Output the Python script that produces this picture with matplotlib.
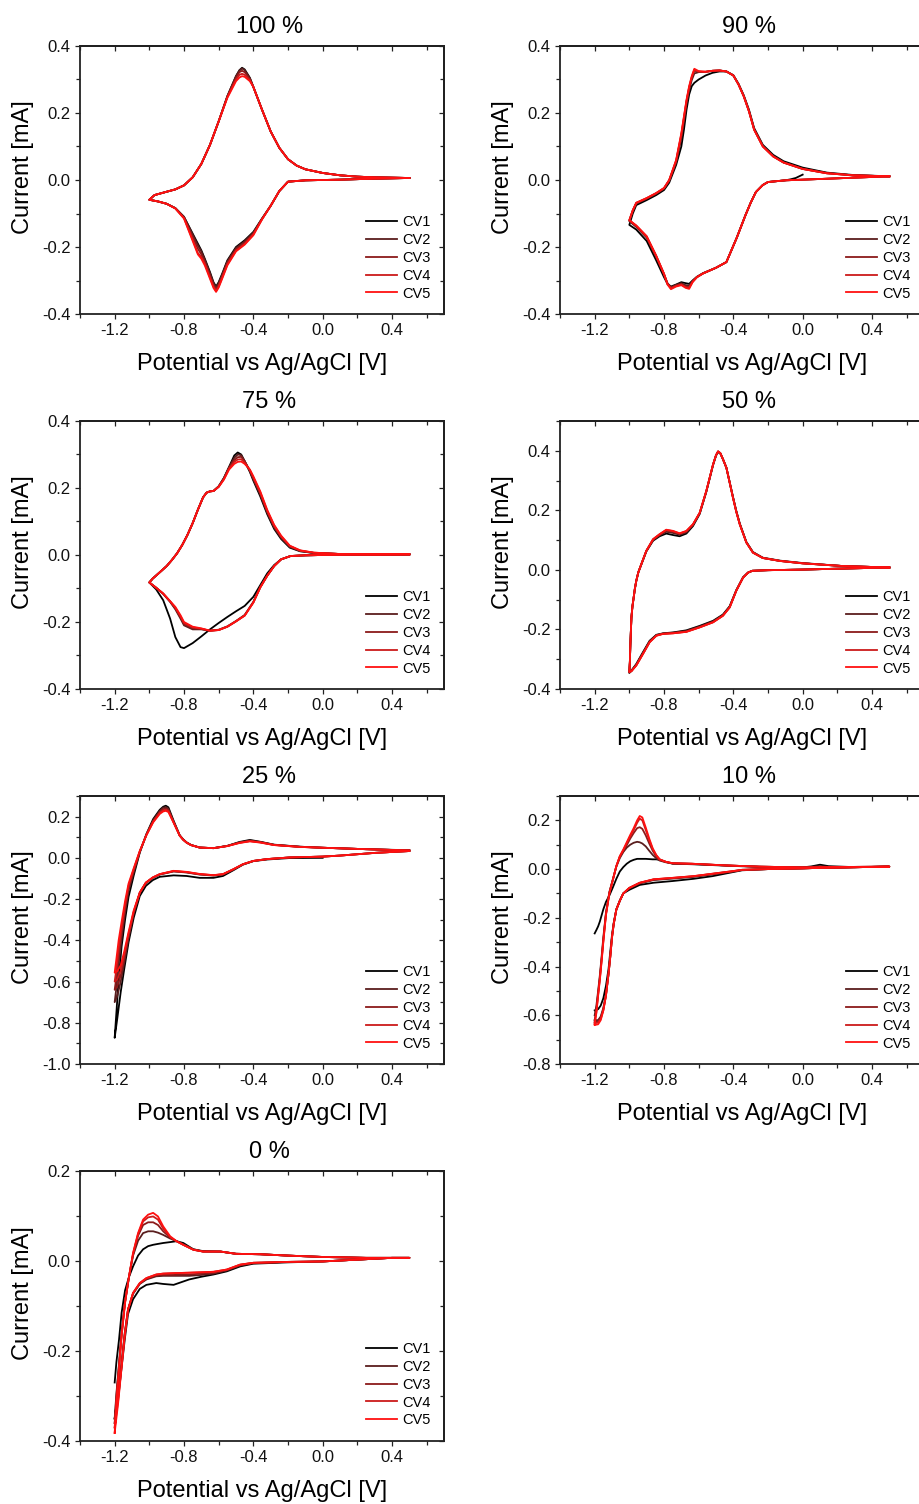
import matplotlib
matplotlib.use("Agg")
import matplotlib.pyplot as plt
from matplotlib.ticker import MultipleLocator, FuncFormatter

plt.rcParams['font.family'] = ['Liberation Sans', 'DejaVu Sans']
plt.rcParams['axes.unicode_minus'] = False

# ---------------- data (potential V, current mA) ----------------
LABELS = ["CV1", "CV2", "CV3", "CV4", "CV5"]
COLORS = ["#000000", "#5a1e1e", "#8b1a1a", "#cc1a1a", "#ff1010"]

# 100 %
E100 = [0.5, 0.3, 0.1, 0.0, -0.1, -0.2, -0.25, -0.3, -0.35, -0.4, -0.45, -0.5, -0.55, -0.58, -0.6, -0.615, -0.63, -0.65, -0.68, -0.7, -0.72, -0.75, -0.8, -0.85, -0.9, -0.95, -1.0,
        -0.97, -0.9, -0.85, -0.8, -0.75, -0.7, -0.65, -0.6, -0.55, -0.5, -0.48, -0.465, -0.45, -0.42, -0.4, -0.35, -0.3, -0.25, -0.2, -0.15, -0.1, 0.0, 0.1, 0.2, 0.3, 0.5]
I100_CV1 = [0.006, 0.004, 0.001, 0.0, -0.001, -0.005, -0.033, -0.077, -0.115, -0.155, -0.18, -0.2, -0.24, -0.28, -0.305, -0.318, -0.305, -0.275, -0.235, -0.21, -0.19, -0.16, -0.11, -0.084, -0.071, -0.064, -0.059,
            -0.045, -0.035, -0.028, -0.016, 0.008, 0.048, 0.105, 0.175, 0.25, 0.31, 0.328, 0.335, 0.33, 0.305, 0.278, 0.21, 0.145, 0.096, 0.062, 0.043, 0.032, 0.021, 0.014, 0.010, 0.008, 0.006]
I100_CV2 = [0.006, 0.004, 0.001, 0.0, -0.001, -0.005, -0.033, -0.077, -0.116, -0.157, -0.183, -0.203, -0.243, -0.283, -0.308, -0.321, -0.308, -0.278, -0.238, -0.213, -0.195, -0.163, -0.11, -0.084, -0.071, -0.064, -0.059,
            -0.045, -0.035, -0.028, -0.016, 0.008, 0.048, 0.105, 0.175, 0.25, 0.31, 0.327, 0.333, 0.328, 0.304, 0.278, 0.21, 0.145, 0.096, 0.062, 0.043, 0.032, 0.021, 0.014, 0.010, 0.008, 0.006]
I100_CV3 = [0.006, 0.004, 0.001, 0.0, -0.001, -0.005, -0.033, -0.077, -0.116, -0.16, -0.187, -0.207, -0.247, -0.287, -0.313, -0.326, -0.313, -0.285, -0.245, -0.222, -0.205, -0.17, -0.112, -0.084, -0.071, -0.064, -0.059,
            -0.045, -0.035, -0.028, -0.016, 0.008, 0.048, 0.105, 0.175, 0.249, 0.305, 0.322, 0.326, 0.322, 0.301, 0.278, 0.21, 0.145, 0.096, 0.062, 0.043, 0.032, 0.021, 0.014, 0.010, 0.008, 0.006]
I100_CV4 = [0.006, 0.004, 0.001, 0.0, -0.001, -0.005, -0.033, -0.077, -0.117, -0.163, -0.191, -0.211, -0.252, -0.292, -0.318, -0.331, -0.318, -0.291, -0.25, -0.23, -0.218, -0.178, -0.114, -0.085, -0.071, -0.064, -0.059,
            -0.045, -0.035, -0.028, -0.016, 0.008, 0.048, 0.105, 0.175, 0.247, 0.3, 0.314, 0.317, 0.314, 0.298, 0.278, 0.21, 0.145, 0.096, 0.062, 0.043, 0.032, 0.021, 0.014, 0.010, 0.008, 0.006]
I100_CV5 = [0.006, 0.004, 0.001, 0.0, -0.001, -0.005, -0.033, -0.077, -0.118, -0.165, -0.193, -0.213, -0.255, -0.295, -0.321, -0.334, -0.322, -0.295, -0.255, -0.235, -0.222, -0.182, -0.115, -0.085, -0.071, -0.064, -0.059,
            -0.045, -0.035, -0.028, -0.016, 0.008, 0.048, 0.105, 0.175, 0.245, 0.295, 0.306, 0.31, 0.308, 0.295, 0.278, 0.21, 0.145, 0.096, 0.062, 0.043, 0.032, 0.021, 0.014, 0.010, 0.008, 0.006]

# 90 %
E90 = [0.5, 0.3, 0.1, 0.0, -0.1, -0.2, -0.23, -0.27, -0.3, -0.33, -0.38, -0.44, -0.5, -0.575, -0.61, -0.635, -0.655, -0.675, -0.7, -0.73, -0.76, -0.78, -0.8, -0.845, -0.9, -0.96, -1.0,
       -0.98, -0.96, -0.9, -0.845, -0.8, -0.77, -0.73, -0.7, -0.685, -0.67, -0.655, -0.64, -0.625, -0.6, -0.56, -0.52, -0.48, -0.44, -0.4, -0.37, -0.34, -0.31, -0.28, -0.23, -0.17, -0.11, 0.0, 0.14, 0.29, 0.5]
E90_CV1 = [0.0, -0.04, -0.07, -0.1, -0.2, -0.23, -0.27, -0.3, -0.33, -0.38, -0.44, -0.5, -0.575, -0.61, -0.635, -0.655, -0.675, -0.7, -0.73, -0.76, -0.78, -0.8, -0.845, -0.9, -0.96, -1.0,
           -0.98, -0.96, -0.9, -0.845, -0.8, -0.77, -0.73, -0.7, -0.685, -0.67, -0.655, -0.64, -0.625, -0.6, -0.56, -0.52, -0.48, -0.44, -0.4, -0.37, -0.34, -0.31, -0.28, -0.23, -0.17, -0.11, 0.0, 0.14, 0.29, 0.5]
I90_CV1 = [0.016, 0.006, 0.002, -0.001, -0.006, -0.015, -0.036, -0.068, -0.105, -0.172, -0.245, -0.262, -0.278, -0.289, -0.3, -0.31, -0.308, -0.305, -0.312, -0.318, -0.31, -0.29, -0.24, -0.182, -0.148, -0.134,
           -0.1, -0.075, -0.06, -0.045, -0.03, -0.008, 0.045, 0.1, 0.15, 0.21, 0.255, 0.28, 0.29, 0.3, 0.312, 0.32, 0.324, 0.324, 0.313, 0.287, 0.253, 0.21, 0.155, 0.105, 0.075, 0.056, 0.037, 0.022, 0.015, 0.011]
I90_CV2 = [0.011, 0.007, 0.003, 0.001, -0.001, -0.006, -0.015, -0.036, -0.068, -0.105, -0.172, -0.245, -0.262, -0.279, -0.289, -0.301, -0.315, -0.314, -0.308, -0.313, -0.32, -0.308, -0.282, -0.23, -0.172, -0.14, -0.123,
           -0.093, -0.07, -0.056, -0.041, -0.026, -0.003, 0.052, 0.125, 0.175, 0.228, 0.268, 0.298, 0.318, 0.322, 0.323, 0.326, 0.327, 0.324, 0.312, 0.286, 0.251, 0.207, 0.152, 0.102, 0.072, 0.053, 0.034, 0.021, 0.014, 0.011]
I90_CV3 = [0.011, 0.007, 0.003, 0.001, -0.001, -0.006, -0.015, -0.036, -0.068, -0.105, -0.172, -0.245, -0.262, -0.279, -0.29, -0.303, -0.32, -0.318, -0.311, -0.315, -0.322, -0.309, -0.281, -0.228, -0.17, -0.138, -0.121,
           -0.091, -0.069, -0.055, -0.04, -0.025, -0.001, 0.056, 0.133, 0.183, 0.234, 0.274, 0.305, 0.326, 0.323, 0.323, 0.326, 0.327, 0.324, 0.312, 0.285, 0.25, 0.206, 0.151, 0.101, 0.071, 0.052, 0.033, 0.02, 0.014, 0.011]
I90_CV4 = [0.011, 0.007, 0.003, 0.001, -0.001, -0.006, -0.015, -0.036, -0.068, -0.105, -0.172, -0.245, -0.262, -0.279, -0.29, -0.304, -0.322, -0.32, -0.312, -0.316, -0.323, -0.31, -0.28, -0.226, -0.168, -0.136, -0.12,
           -0.09, -0.068, -0.054, -0.039, -0.024, 0.0, 0.058, 0.137, 0.187, 0.237, 0.277, 0.307, 0.329, 0.324, 0.323, 0.326, 0.327, 0.324, 0.312, 0.285, 0.25, 0.205, 0.15, 0.1, 0.07, 0.052, 0.033, 0.02, 0.014, 0.011]
I90_CV5 = [0.011, 0.007, 0.003, 0.001, -0.001, -0.006, -0.015, -0.036, -0.068, -0.105, -0.172, -0.245, -0.262, -0.279, -0.29, -0.305, -0.325, -0.322, -0.314, -0.318, -0.326, -0.312, -0.28, -0.226, -0.168, -0.136, -0.12,
           -0.09, -0.068, -0.054, -0.039, -0.024, 0.0, 0.06, 0.14, 0.19, 0.24, 0.28, 0.31, 0.332, 0.325, 0.323, 0.326, 0.327, 0.324, 0.312, 0.285, 0.25, 0.205, 0.15, 0.1, 0.07, 0.052, 0.033, 0.02, 0.014, 0.011]

# 75 %
E75 = [0.5, 0.2, 0.0, -0.1, -0.185, -0.24, -0.28, -0.32, -0.36, -0.4, -0.45, -0.5, -0.55, -0.6, -0.65, -0.7, -0.75, -0.8, -0.82, -0.85, -0.88, -0.92, -0.96, -1.0,
       -0.98, -0.96, -0.93, -0.9, -0.87, -0.84, -0.81, -0.78, -0.75, -0.72, -0.69, -0.67, -0.65, -0.63, -0.6, -0.57, -0.54, -0.51, -0.49, -0.47, -0.45, -0.42, -0.4, -0.36, -0.32, -0.28, -0.24, -0.19, -0.13, -0.05, 0.1, 0.3, 0.5]
I75_CV1 = [0.002, 0.001, 0.0, -0.001, -0.003, -0.013, -0.03, -0.055, -0.09, -0.125, -0.152, -0.168, -0.185, -0.203, -0.222, -0.243, -0.263, -0.278, -0.275, -0.245, -0.19, -0.135, -0.103, -0.082,
           -0.07, -0.061, -0.047, -0.033, -0.015, 0.005, 0.03, 0.06, 0.095, 0.135, 0.172, 0.186, 0.19, 0.191, 0.205, 0.23, 0.263, 0.297, 0.306, 0.3, 0.28, 0.248, 0.222, 0.175, 0.122, 0.078, 0.048, 0.022, 0.011, 0.006, 0.003, 0.002, 0.002]
I75_CV2 = [0.002, 0.001, 0.0, -0.001, -0.003, -0.013, -0.033, -0.062, -0.095, -0.14, -0.179, -0.197, -0.213, -0.223, -0.226, -0.222, -0.222, -0.21, -0.19, -0.162, -0.14, -0.116, -0.098, -0.082,
           -0.07, -0.061, -0.047, -0.033, -0.015, 0.005, 0.03, 0.06, 0.095, 0.135, 0.172, 0.186, 0.19, 0.191, 0.205, 0.229, 0.262, 0.29, 0.3, 0.298, 0.28, 0.25, 0.226, 0.18, 0.126, 0.082, 0.051, 0.024, 0.012, 0.006, 0.003, 0.002, 0.002]
I75_CV3 = [0.002, 0.001, 0.0, -0.001, -0.003, -0.013, -0.033, -0.062, -0.096, -0.141, -0.18, -0.198, -0.214, -0.224, -0.226, -0.221, -0.219, -0.206, -0.186, -0.16, -0.139, -0.116, -0.098, -0.082,
           -0.07, -0.061, -0.047, -0.033, -0.015, 0.005, 0.03, 0.06, 0.095, 0.135, 0.172, 0.186, 0.19, 0.191, 0.204, 0.228, 0.26, 0.283, 0.292, 0.293, 0.28, 0.252, 0.229, 0.184, 0.13, 0.085, 0.054, 0.026, 0.013, 0.006, 0.003, 0.002, 0.002]
I75_CV4 = [0.002, 0.001, 0.0, -0.001, -0.003, -0.013, -0.033, -0.062, -0.097, -0.142, -0.181, -0.198, -0.214, -0.224, -0.226, -0.22, -0.216, -0.203, -0.183, -0.157, -0.138, -0.115, -0.098, -0.082,
           -0.07, -0.061, -0.047, -0.033, -0.015, 0.005, 0.03, 0.06, 0.095, 0.135, 0.172, 0.186, 0.19, 0.191, 0.204, 0.226, 0.258, 0.278, 0.285, 0.286, 0.276, 0.254, 0.232, 0.187, 0.132, 0.088, 0.056, 0.027, 0.013, 0.007, 0.003, 0.002, 0.002]
I75_CV5 = [0.002, 0.001, 0.0, -0.001, -0.003, -0.013, -0.033, -0.062, -0.097, -0.142, -0.181, -0.198, -0.214, -0.224, -0.226, -0.219, -0.214, -0.2, -0.18, -0.155, -0.138, -0.115, -0.098, -0.082,
           -0.07, -0.061, -0.047, -0.033, -0.015, 0.005, 0.03, 0.06, 0.095, 0.135, 0.172, 0.186, 0.19, 0.191, 0.203, 0.225, 0.255, 0.272, 0.278, 0.279, 0.272, 0.255, 0.235, 0.19, 0.135, 0.09, 0.058, 0.028, 0.014, 0.007, 0.003, 0.002, 0.002]

# 50 %
E50 = [0.5, 0.2, 0.0, -0.2, -0.29, -0.315, -0.344, -0.383, -0.421, -0.46, -0.517, -0.594, -0.671, -0.748, -0.806, -0.844, -0.883, -0.921, -0.96, -0.988, -1.0,
       -0.997, -0.994, -0.988, -0.982, -0.975, -0.968, -0.96, -0.948, -0.931, -0.902, -0.863, -0.825, -0.787, -0.748, -0.71, -0.671, -0.633, -0.594, -0.556, -0.517, -0.5, -0.488, -0.475, -0.46, -0.44, -0.42, -0.402, -0.383, -0.363, -0.325, -0.287, -0.23, -0.13, 0.0, 0.23, 0.5]
I50_CV1 = [0.008, 0.004, 0.001, -0.001, -0.003, -0.009, -0.025, -0.068, -0.122, -0.15, -0.171, -0.188, -0.203, -0.21, -0.213, -0.218, -0.238, -0.276, -0.316, -0.338, -0.346,
           -0.31, -0.25, -0.16, -0.122, -0.093, -0.063, -0.037, -0.008, 0.018, 0.062, 0.098, 0.113, 0.122, 0.117, 0.113, 0.122, 0.147, 0.188, 0.262, 0.352, 0.384, 0.396, 0.391, 0.372, 0.343, 0.292, 0.245, 0.198, 0.156, 0.094, 0.06, 0.041, 0.031, 0.023, 0.013, 0.008]
I50_CV2 = [0.008, 0.004, 0.001, -0.001, -0.003, -0.009, -0.025, -0.069, -0.123, -0.151, -0.173, -0.19, -0.205, -0.211, -0.214, -0.219, -0.24, -0.278, -0.318, -0.339, -0.345,
           -0.31, -0.25, -0.16, -0.122, -0.093, -0.063, -0.037, -0.008, 0.018, 0.063, 0.1, 0.116, 0.128, 0.124, 0.118, 0.126, 0.15, 0.19, 0.263, 0.353, 0.384, 0.397, 0.391, 0.372, 0.343, 0.291, 0.244, 0.197, 0.155, 0.093, 0.059, 0.04, 0.03, 0.022, 0.013, 0.008]
I50_CV3 = [0.008, 0.004, 0.001, -0.001, -0.003, -0.009, -0.026, -0.07, -0.125, -0.153, -0.175, -0.192, -0.207, -0.212, -0.214, -0.22, -0.242, -0.281, -0.32, -0.34, -0.344,
           -0.31, -0.249, -0.16, -0.122, -0.093, -0.063, -0.037, -0.008, 0.019, 0.064, 0.102, 0.118, 0.132, 0.128, 0.121, 0.129, 0.152, 0.191, 0.264, 0.354, 0.385, 0.398, 0.392, 0.372, 0.343, 0.29, 0.243, 0.196, 0.154, 0.092, 0.058, 0.04, 0.03, 0.022, 0.013, 0.008]
I50_CV4 = [0.008, 0.004, 0.001, -0.001, -0.003, -0.009, -0.026, -0.07, -0.126, -0.154, -0.176, -0.193, -0.208, -0.213, -0.215, -0.221, -0.243, -0.282, -0.321, -0.34, -0.343,
           -0.31, -0.249, -0.16, -0.122, -0.093, -0.063, -0.037, -0.008, 0.019, 0.064, 0.103, 0.12, 0.134, 0.13, 0.122, 0.13, 0.153, 0.192, 0.265, 0.354, 0.385, 0.398, 0.392, 0.372, 0.343, 0.29, 0.242, 0.195, 0.153, 0.092, 0.058, 0.04, 0.03, 0.022, 0.013, 0.008]
I50_CV5 = [0.008, 0.004, 0.001, -0.001, -0.003, -0.009, -0.026, -0.07, -0.126, -0.154, -0.176, -0.193, -0.208, -0.213, -0.215, -0.221, -0.243, -0.282, -0.321, -0.34, -0.343,
           -0.31, -0.249, -0.16, -0.122, -0.093, -0.063, -0.037, -0.008, 0.019, 0.064, 0.103, 0.12, 0.135, 0.131, 0.123, 0.131, 0.153, 0.192, 0.265, 0.354, 0.385, 0.398, 0.392, 0.372, 0.343, 0.29, 0.242, 0.195, 0.153, 0.092, 0.058, 0.04, 0.03, 0.022, 0.013, 0.008]

# 25 %
E25 = [0.5, 0.3, 0.1, 0.0, -0.19, -0.32, -0.4, -0.46, -0.515, -0.575, -0.63, -0.71, -0.785, -0.86, -0.94, -0.98, -1.02, -1.055, -1.09, -1.12, -1.145, -1.165, -1.185, -1.2,
       -1.19, -1.177, -1.16, -1.14, -1.12, -1.09, -1.055, -1.017, -0.978, -0.94, -0.92, -0.905, -0.89, -0.86, -0.825, -0.805, -0.785, -0.76, -0.71, -0.63, -0.55, -0.48, -0.42, -0.36, -0.28, -0.13, 0.0, 0.25, 0.5]
E25_CV1 = [0.0, -0.19, -0.32, -0.4, -0.46, -0.515, -0.575, -0.63, -0.71, -0.785, -0.86, -0.94, -0.98, -1.02, -1.055, -1.09, -1.12, -1.145, -1.165, -1.185, -1.2,
           -1.19, -1.177, -1.16, -1.14, -1.12, -1.09, -1.055, -1.017, -0.978, -0.94, -0.92, -0.905, -0.89, -0.86, -0.825, -0.805, -0.785, -0.76, -0.71, -0.63, -0.55, -0.48, -0.42, -0.36, -0.28, -0.13, 0.0, 0.25, 0.5]
I25_CV1 = [0.0, -0.001, -0.008, -0.016, -0.033, -0.06, -0.088, -0.097, -0.097, -0.088, -0.085, -0.092, -0.108, -0.136, -0.185, -0.29, -0.41, -0.54, -0.65, -0.78, -0.873,
           -0.751, -0.59, -0.43, -0.3, -0.19, -0.085, 0.026, 0.115, 0.188, 0.233, 0.248, 0.253, 0.245, 0.18, 0.11, 0.09, 0.075, 0.063, 0.05, 0.047, 0.058, 0.077, 0.087, 0.078, 0.064, 0.054, 0.049, 0.042, 0.037]
I25_CV2 = [0.033, 0.024, 0.011, 0.006, 0.002, -0.006, -0.015, -0.032, -0.057, -0.081, -0.086, -0.081, -0.071, -0.066, -0.081, -0.097, -0.122, -0.17, -0.27, -0.39, -0.51, -0.6, -0.67, -0.7,
           -0.63, -0.51, -0.39, -0.265, -0.16, -0.07, 0.028, 0.113, 0.182, 0.228, 0.243, 0.246, 0.238, 0.176, 0.109, 0.089, 0.074, 0.062, 0.05, 0.047, 0.058, 0.075, 0.084, 0.077, 0.063, 0.054, 0.049, 0.042, 0.036]
I25_CV3 = [0.033, 0.024, 0.011, 0.006, 0.002, -0.006, -0.015, -0.031, -0.056, -0.08, -0.085, -0.08, -0.07, -0.065, -0.08, -0.096, -0.121, -0.169, -0.265, -0.38, -0.49, -0.57, -0.625, -0.64,
           -0.58, -0.47, -0.36, -0.245, -0.145, -0.06, 0.03, 0.112, 0.178, 0.223, 0.236, 0.239, 0.232, 0.174, 0.108, 0.088, 0.074, 0.062, 0.05, 0.047, 0.058, 0.074, 0.082, 0.076, 0.063, 0.053, 0.049, 0.042, 0.036]
I25_CV4 = [0.033, 0.024, 0.011, 0.006, 0.002, -0.006, -0.015, -0.031, -0.055, -0.079, -0.084, -0.079, -0.069, -0.064, -0.079, -0.095, -0.12, -0.168, -0.26, -0.37, -0.47, -0.545, -0.59, -0.6,
           -0.54, -0.44, -0.34, -0.23, -0.135, -0.055, 0.032, 0.11, 0.175, 0.218, 0.23, 0.233, 0.227, 0.172, 0.108, 0.088, 0.074, 0.062, 0.05, 0.047, 0.057, 0.073, 0.081, 0.075, 0.062, 0.053, 0.049, 0.042, 0.036]
I25_CV5 = [0.033, 0.024, 0.011, 0.006, 0.002, -0.006, -0.015, -0.031, -0.055, -0.079, -0.084, -0.078, -0.068, -0.063, -0.079, -0.095, -0.12, -0.168, -0.255, -0.36, -0.455, -0.52, -0.55, -0.557,
           -0.49, -0.4, -0.31, -0.21, -0.125, -0.05, 0.034, 0.11, 0.172, 0.213, 0.225, 0.228, 0.222, 0.17, 0.108, 0.088, 0.074, 0.062, 0.05, 0.047, 0.057, 0.072, 0.08, 0.074, 0.062, 0.053, 0.049, 0.042, 0.036]

# 10 %
E10 = [-1.2, -1.19, -1.18, -1.17, -1.16, -1.15, -1.135, -1.115, -1.095, -1.075, -1.055, -1.035, -1.015, -0.995, -0.975, -0.955, -0.94, -0.925, -0.905, -0.885, -0.865, -0.845, -0.825, -0.79, -0.75, -0.64, -0.44, -0.25, 0.0, 0.05, 0.1, 0.15, 0.3, 0.5,
       0.4, 0.2, 0.1, 0.0, -0.2, -0.35, -0.4, -0.52, -0.63, -0.75, -0.86, -0.94, -1.0, -1.035, -1.055, -1.075, -1.09, -1.1, -1.11, -1.12, -1.135, -1.15, -1.165, -1.18, -1.2]
I10_CV1 = [-0.264, -0.25, -0.235, -0.215, -0.19, -0.165, -0.135, -0.108, -0.075, -0.04, -0.01, 0.008, 0.022, 0.032, 0.038, 0.042, 0.042, 0.042, 0.042, 0.041, 0.04, 0.04, 0.038, 0.03, 0.022, 0.02, 0.014, 0.009, 0.007, 0.011, 0.018, 0.012, 0.008, 0.01,
           0.009, 0.006, 0.005, 0.003, 0.0, -0.005, -0.012, -0.029, -0.04, -0.049, -0.056, -0.065, -0.085, -0.1, -0.13, -0.166, -0.22, -0.27, -0.34, -0.41, -0.48, -0.53, -0.56, -0.575, -0.58]
I10_CV2 = [-0.6, -0.56, -0.5, -0.435, -0.36, -0.28, -0.18, -0.094, -0.042, 0.01, 0.045, 0.07, 0.088, 0.1, 0.108, 0.112, 0.11, 0.105, 0.093, 0.075, 0.058, 0.045, 0.035, 0.028, 0.023, 0.021, 0.015, 0.01, 0.007, 0.009, 0.012, 0.009, 0.009, 0.01,
           0.009, 0.006, 0.005, 0.003, 0.0, -0.004, -0.01, -0.022, -0.032, -0.039, -0.045, -0.059, -0.079, -0.1, -0.13, -0.166, -0.225, -0.28, -0.36, -0.43, -0.515, -0.57, -0.605, -0.62, -0.62]
I10_CV3 = [-0.62, -0.575, -0.51, -0.445, -0.37, -0.29, -0.184, -0.096, -0.043, 0.012, 0.05, 0.072, 0.098, 0.125, 0.148, 0.168, 0.172, 0.165, 0.138, 0.105, 0.075, 0.052, 0.038, 0.029, 0.024, 0.022, 0.015, 0.01, 0.007, 0.008, 0.009, 0.008, 0.009, 0.01,
           0.009, 0.006, 0.005, 0.003, 0.0, -0.003, -0.009, -0.02, -0.03, -0.037, -0.043, -0.057, -0.078, -0.1, -0.13, -0.166, -0.225, -0.28, -0.36, -0.43, -0.52, -0.575, -0.61, -0.625, -0.628]
I10_CV4 = [-0.63, -0.585, -0.515, -0.45, -0.375, -0.295, -0.187, -0.098, -0.044, 0.012, 0.052, 0.078, 0.106, 0.135, 0.16, 0.19, 0.207, 0.2, 0.16, 0.118, 0.082, 0.057, 0.04, 0.03, 0.024, 0.022, 0.015, 0.01, 0.007, 0.007, 0.008, 0.008, 0.009, 0.01,
           0.009, 0.006, 0.005, 0.003, 0.0, -0.003, -0.008, -0.019, -0.029, -0.036, -0.042, -0.056, -0.077, -0.1, -0.13, -0.166, -0.225, -0.28, -0.36, -0.43, -0.52, -0.58, -0.615, -0.63, -0.633]
I10_CV5 = [-0.637, -0.59, -0.52, -0.455, -0.38, -0.3, -0.19, -0.1, -0.045, 0.012, 0.053, 0.08, 0.11, 0.14, 0.168, 0.2, 0.218, 0.212, 0.17, 0.125, 0.085, 0.058, 0.04, 0.03, 0.024, 0.022, 0.015, 0.01, 0.007, 0.007, 0.008, 0.008, 0.009, 0.01,
           0.009, 0.006, 0.005, 0.003, 0.0, -0.003, -0.008, -0.019, -0.029, -0.036, -0.042, -0.056, -0.077, -0.1, -0.13, -0.166, -0.225, -0.28, -0.36, -0.43, -0.52, -0.58, -0.62, -0.637, -0.64]

# 0 %
E0 = [-1.2, -1.19, -1.175, -1.16, -1.14, -1.117, -1.094, -1.065, -1.036, -1.007, -0.978, -0.95, -0.92, -0.88, -0.843, -0.804, -0.746, -0.69, -0.59, -0.5, -0.36, -0.2, 0.0, 0.25, 0.5,
      0.4, 0.25, 0.0, -0.2, -0.4, -0.476, -0.553, -0.63, -0.7, -0.77, -0.86, -0.92, -0.96, -1.017, -1.055, -1.094, -1.123, -1.142, -1.161, -1.18, -1.2]
I0_CV1 = [-0.27, -0.225, -0.175, -0.115, -0.065, -0.035, -0.012, 0.012, 0.026, 0.033, 0.036, 0.038, 0.04, 0.042, 0.044, 0.04, 0.026, 0.022, 0.021, 0.016, 0.015, 0.012, 0.009, 0.007, 0.007,
          0.007, 0.004, -0.001, -0.003, -0.006, -0.012, -0.023, -0.03, -0.035, -0.041, -0.053, -0.051, -0.049, -0.053, -0.062, -0.085, -0.118, -0.175, -0.24, -0.305, -0.35]
I0_CV2 = [-0.35, -0.295, -0.228, -0.16, -0.09, -0.035, 0.012, 0.045, 0.062, 0.066, 0.066, 0.063, 0.058, 0.05, 0.044, 0.037, 0.026, 0.021, 0.021, 0.016, 0.015, 0.012, 0.009, 0.007, 0.007,
          0.007, 0.004, -0.001, -0.002, -0.005, -0.01, -0.021, -0.028, -0.031, -0.033, -0.033, -0.033, -0.034, -0.041, -0.051, -0.073, -0.108, -0.16, -0.228, -0.29, -0.35]
I0_CV3 = [-0.36, -0.3, -0.232, -0.162, -0.09, -0.034, 0.014, 0.056, 0.08, 0.086, 0.086, 0.08, 0.066, 0.052, 0.044, 0.036, 0.025, 0.021, 0.021, 0.016, 0.015, 0.012, 0.009, 0.007, 0.007,
          0.007, 0.004, -0.001, -0.002, -0.004, -0.009, -0.02, -0.026, -0.028, -0.03, -0.031, -0.031, -0.032, -0.04, -0.05, -0.072, -0.108, -0.163, -0.232, -0.3, -0.36]
I0_CV4 = [-0.37, -0.31, -0.237, -0.165, -0.092, -0.034, 0.016, 0.06, 0.088, 0.097, 0.099, 0.092, 0.072, 0.053, 0.044, 0.036, 0.025, 0.021, 0.021, 0.016, 0.015, 0.012, 0.009, 0.007, 0.007,
          0.007, 0.004, -0.001, -0.002, -0.004, -0.008, -0.019, -0.024, -0.025, -0.026, -0.027, -0.028, -0.03, -0.038, -0.049, -0.071, -0.108, -0.165, -0.237, -0.31, -0.37]
I0_CV5 = [-0.382, -0.316, -0.241, -0.167, -0.093, -0.034, 0.018, 0.062, 0.092, 0.103, 0.107, 0.099, 0.077, 0.055, 0.044, 0.036, 0.025, 0.021, 0.021, 0.016, 0.015, 0.012, 0.009, 0.007, 0.007,
          0.007, 0.004, -0.001, -0.002, -0.004, -0.008, -0.019, -0.024, -0.025, -0.026, -0.027, -0.028, -0.03, -0.038, -0.049, -0.071, -0.108, -0.167, -0.241, -0.316, -0.382]

PANELS = [
    ("100 %", 0, 0, (-0.4, 0.4), [(E100, I100_CV1), (E100, I100_CV2), (E100, I100_CV3), (E100, I100_CV4), (E100, I100_CV5)]),
    ("90 %", 0, 1, (-0.4, 0.4), [(E90_CV1, I90_CV1), (E90, I90_CV2), (E90, I90_CV3), (E90, I90_CV4), (E90, I90_CV5)]),
    ("75 %", 1, 0, (-0.4, 0.4), [(E75, I75_CV1), (E75, I75_CV2), (E75, I75_CV3), (E75, I75_CV4), (E75, I75_CV5)]),
    ("50 %", 1, 1, (-0.4, 0.5), [(E50, I50_CV1), (E50, I50_CV2), (E50, I50_CV3), (E50, I50_CV4), (E50, I50_CV5)]),
    ("25 %", 2, 0, (-1.0, 0.3), [(E25_CV1, I25_CV1), (E25, I25_CV2), (E25, I25_CV3), (E25, I25_CV4), (E25, I25_CV5)]),
    ("10 %", 2, 1, (-0.8, 0.3), [(E10, I10_CV1), (E10, I10_CV2), (E10, I10_CV3), (E10, I10_CV4), (E10, I10_CV5)]),
    ("0 %", 3, 0, (-0.4, 0.2), [(E0, I0_CV1), (E0, I0_CV2), (E0, I0_CV3), (E0, I0_CV4), (E0, I0_CV5)]),
]

XLIM = (-1.4, 0.7)
XLABEL = "Potential vs Ag/AgCl [V]"
YLABEL = "Current [mA]"

# ---------------- layout ----------------
W, H = 920, 1504
fig = plt.figure(figsize=(W / 100, H / 100), dpi=100)
ROW_TOP = [46, 421, 796, 1171]
COL_LEFT = [80, 560]
AX_W = 364
AX_H = [268, 268, 268, 270]


def fmt(v, pos):
    if abs(v) < 1e-9:
        v = 0.0
    return "%.1f" % v


SPINE = "#222222"
for title, row, col, ylim, curves in PANELS:
    top = ROW_TOP[row]
    h = AX_H[row]
    ax = fig.add_axes([COL_LEFT[col] / W, 1 - (top + h) / H, AX_W / W, h / H])
    for k, (e, i) in enumerate(curves):
        ax.plot(e, i, color=COLORS[k], lw=1.3, label=LABELS[k], solid_joinstyle="round")
    ax.set_xlim(*XLIM)
    ax.set_ylim(*ylim)
    ax.xaxis.set_major_locator(MultipleLocator(0.4))
    ax.xaxis.set_minor_locator(MultipleLocator(0.2))
    ax.yaxis.set_major_locator(MultipleLocator(0.2))
    ax.yaxis.set_minor_locator(MultipleLocator(0.1))
    ax.xaxis.set_major_formatter(FuncFormatter(fmt))
    ax.yaxis.set_major_formatter(FuncFormatter(fmt))
    ax.tick_params(which="both", direction="out", width=0.9, colors=SPINE, labelcolor="#111111", labelsize=12)
    ax.tick_params(which="major", length=3.6, pad=3)
    ax.tick_params(which="minor", length=2.8)
    for s in ax.spines.values():
        s.set_linewidth(1.3)
        s.set_color(SPINE)

    # inward ticks on top and right (Origin style)
    sx = ax.secondary_xaxis("top")
    sx.xaxis.set_major_locator(MultipleLocator(0.4))
    sx.xaxis.set_minor_locator(MultipleLocator(0.2))
    sx.tick_params(which="both", direction="in", width=0.9, colors=SPINE, labeltop=False)
    sx.tick_params(which="major", length=3.6)
    sx.tick_params(which="minor", length=2.8)
    sx.spines["top"].set_linewidth(1.3)
    sy = ax.secondary_yaxis("right")
    sy.yaxis.set_major_locator(MultipleLocator(0.2))
    sy.yaxis.set_minor_locator(MultipleLocator(0.1))
    sy.tick_params(which="both", direction="in", width=0.9, colors=SPINE, labelright=False)
    sy.tick_params(which="major", length=3.6)
    sy.tick_params(which="minor", length=2.8)
    sy.spines["right"].set_linewidth(1.3)

    ax.text(0.52, 1 + 13 / h, title, transform=ax.transAxes, ha="center", va="baseline", fontsize=17)
    ax.set_xlabel(XLABEL, fontsize=17, va="baseline")
    ax.xaxis.set_label_coords(0.5, -56 / h)
    ax.set_ylabel(YLABEL, fontsize=17)
    ax.yaxis.set_label_coords(-0.126, 0.5485)

    ax.legend(loc="lower right", bbox_to_anchor=(0.962, 0.05), frameon=False,
              fontsize=10.5, handlelength=2.15, handletextpad=0.3, labelspacing=0.27,
              borderpad=0, borderaxespad=0)

fig.savefig("out.png", dpi=100, facecolor="white")
